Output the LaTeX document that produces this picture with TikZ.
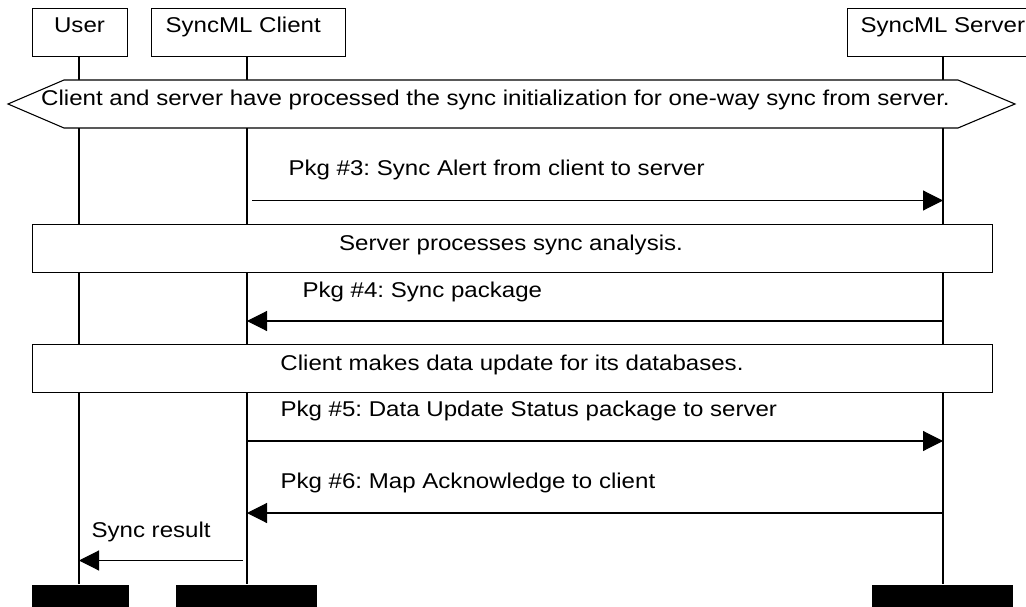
\documentclass[tikz,border=0pt]{standalone}
\usepackage{graphicx}
\usepackage{fontspec}
\setmainfont{Liberation Sans}
\frenchspacing
\usetikzlibrary{arrows.meta}
\newcommand{\wt}[1]{\scalebox{1.125}[1]{#1}}
\begin{document}
\begin{tikzpicture}[x=1pt,y=-1pt,line width=1.1pt,
  txt/.style={font=\fontsize{21.4}{24}\selectfont, inner sep=0pt},
  hdr/.style={draw, fill=white, minimum height=48pt, inner sep=0pt, anchor=north west},
  band/.style={draw, fill=white, minimum width=960pt, minimum height=48pt, inner sep=0pt, anchor=north west},
  bar/.style={fill=black, minimum height=23pt, inner sep=0pt, anchor=north west},
  msg/.style={-{Triangle[length=20pt,width=20pt]}},
  life/.style={line width=1.1pt}]
\useasboundingbox (0,0) rectangle (1026,607);
\clip (0,0) rectangle (1026,607);
% header boxes
\node[hdr, minimum width=95pt] (user) at (32,8) {};
\node[hdr, minimum width=194pt] (client) at (151,8) {};
\node[hdr, minimum width=190pt] (server) at (847,8) {};
\node[txt, anchor=base] at (79.5,32.7) {\wt{User}};
\node[txt, anchor=base west] at (165,32.7) {\wt{SyncML Client}};
\node[txt, anchor=base west] at (860,32.7) {\wt{SyncML Server}};
% foot bars
\node[bar, minimum width=97pt] (userf) at (31,584) {};
\node[bar, minimum width=141pt] (clientf) at (175,584) {};
\node[bar, minimum width=141pt] (serverf) at (871,584) {};
% lifelines
\coordinate (ux) at (79,0);
\coordinate (cx) at (247,0);
\coordinate (sx) at (943,0);
\draw[life] (ux |- user.south) -- (ux |- userf.north);
\draw[life] (cx |- client.south) -- (cx |- clientf.north);
\draw[life] (sx |- server.south) -- (sx |- serverf.north);
% hexagon
\draw[fill=white] (8,104) -- (64,80) -- (958,80) -- (1015,104) -- (958,128) -- (64,128) -- cycle;
\node[txt, anchor=base] (hex) at (495.5,106) {\wt{Client and server have processed the sync initialization for one-way sync from server.}};
% bands
\node[band] (b1) at (32,224) {};
\node[txt, anchor=base] at (511,250) {\wt{Server processes sync analysis.}};
\node[band] (b2) at (32,344) {};
\node[txt, anchor=base] at (512,370) {\wt{Client makes data update for its databases.}};
% messages
\coordinate (m3a) at (252,200.5);
\draw[msg] (m3a) -- (sx |- m3a);
\node[txt, anchor=base west] at (288,176) {\wt{Pkg \#3: Sync Alert from client to server}};
\coordinate (m4a) at (943,321);
\draw[msg] (m4a) -- (cx |- m4a);
\node[txt, anchor=base west] at (302,297) {\wt{Pkg \#4: Sync package}};
\coordinate (m5a) at (247,441);
\draw[msg] (m5a) -- (sx |- m5a);
\node[txt, anchor=base west] at (280,416.5) {\wt{Pkg \#5: Data Update Status package to server}};
\coordinate (m6a) at (943,513);
\draw[msg] (m6a) -- (cx |- m6a);
\node[txt, anchor=base west] at (280,488.5) {\wt{Pkg \#6: Map Acknowledge to client}};
\coordinate (m7a) at (243,560.5);
\draw[msg] (m7a) -- (ux |- m7a);
\node[txt, anchor=base west] at (91,537) {\wt{Sync result}};
\end{tikzpicture}
\end{document}
